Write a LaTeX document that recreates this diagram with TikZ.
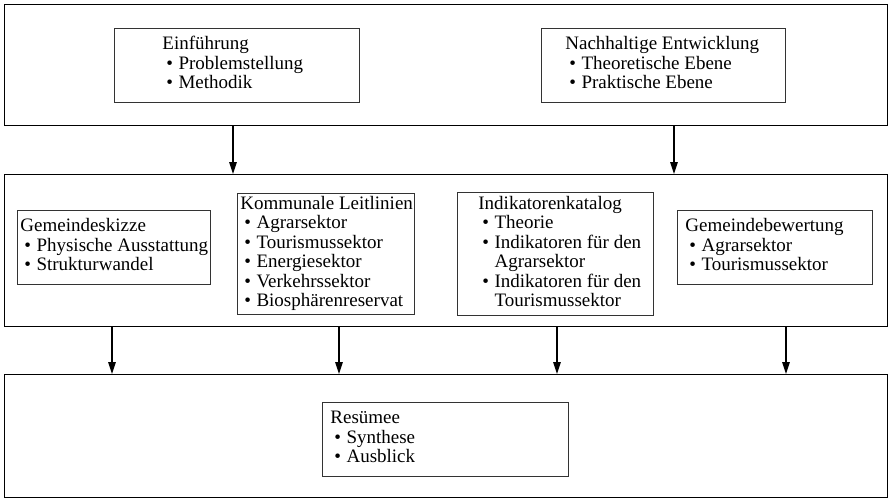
\documentclass[tikz,border=0pt]{standalone}
\usepackage{fontspec}
\setmainfont{Liberation Serif}
\usetikzlibrary{arrows.meta}

% bullet item, and a continuation line aligned with the item text
\newcommand{\itm}[1]{\hspace*{4pt}\textbullet\hspace{5.5pt}#1}
\newcommand{\cnt}[1]{\hphantom{\itm{}}#1}
% text block of a box: width, left indent, lines
\newcommand{\blk}[3]{\makebox[#1][l]{\hspace*{#2}\begin{tabular}[c]{@{}l@{}}#3\end{tabular}}}

\begin{document}
\begin{tikzpicture}[x=1pt,y=-1pt,
  every node/.style={font=\fontsize{19}{19.5}\selectfont},
  outer/.style={draw=black, line width=1.4pt, inner sep=0pt, anchor=north west},
  inbox/.style={draw=black!80, line width=0.8pt, inner sep=0pt, anchor=north west},
  arr/.style={-{Triangle[length=12pt,width=7.5pt]}, line width=1.3pt}]
\useasboundingbox (0,0) rectangle (888,498);

% three frames
\node[outer, minimum width=883pt, minimum height=121pt] (top) at (4,4) {};
\node[outer, minimum width=883pt, minimum height=152pt] (mid) at (4,174) {};
\node[outer, minimum width=883pt, minimum height=123pt] (low) at (4,374) {};

% first frame
\node[inbox, minimum width=245pt, minimum height=74pt] (einf) at (114,28)
  {\blk{245pt}{48pt}{Einführung\\ \itm{Problemstellung}\\ \itm{Methodik}}};
\node[inbox, minimum width=244pt, minimum height=74pt] (nach) at (541,28)
  {\blk{244pt}{24pt}{Nachhaltige Entwicklung\\ \itm{Theoretische Ebene}\\ \itm{Praktische Ebene}}};

% second frame
\node[inbox, minimum width=193pt, minimum height=74pt] (skiz) at (17,210)
  {\blk{193pt}{3pt}{Gemeindeskizze\\ \itm{Physische Ausstattung}\\ \itm{Strukturwandel}}};
\node[inbox, minimum width=177pt, minimum height=121pt] (leit) at (237,193)
  {\blk{177pt}{3pt}{Kommunale Leitlinien\\ \itm{Agrarsektor}\\ \itm{Tourismussektor}\\ \itm{Energiesektor}\\ \itm{Verkehrssektor}\\ \itm{Biosphärenreservat}}};
\node[inbox, minimum width=196pt, minimum height=123pt] (kat) at (457,192)
  {\blk{196pt}{21pt}{Indikatorenkatalog\\ \itm{Theorie}\\ \itm{Indikatoren für den}\\ \cnt{Agrarsektor}\\ \itm{Indikatoren für den}\\ \cnt{Tourismussektor}}};
\node[inbox, minimum width=195pt, minimum height=74pt] (bew) at (677,210)
  {\blk{195pt}{8pt}{Gemeindebewertung\\ \itm{Agrarsektor}\\ \itm{Tourismussektor}}};

% third frame
\node[inbox, minimum width=246pt, minimum height=74pt] (res) at (322,402)
  {\blk{246pt}{8pt}{Resümee\\ \itm{Synthese}\\ \itm{Ausblick}}};

% arrow positions
\coordinate (a1) at (233,0);
\coordinate (a2) at (674,0);
\coordinate (b1) at (112,0);
\coordinate (b2) at (339,0);
\coordinate (b3) at (557,0);
\coordinate (b4) at (786,0);

\draw[arr] (top.south -| a1) -- (mid.north -| a1);
\draw[arr] (top.south -| a2) -- (mid.north -| a2);
\draw[arr] (mid.south -| b1) -- (low.north -| b1);
\draw[arr] (mid.south -| b2) -- (low.north -| b2);
\draw[arr] (mid.south -| b3) -- (low.north -| b3);
\draw[arr] (mid.south -| b4) -- (low.north -| b4);
\end{tikzpicture}
\end{document}
